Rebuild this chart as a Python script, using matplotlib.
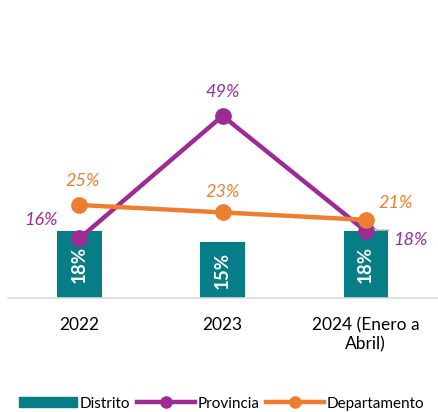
import matplotlib.pyplot as plt
import numpy as np
from matplotlib.lines import Line2D
from matplotlib.patches import Patch

categorias = ["2022", "2023", "2024 (Enero a\nAbril)"]
distrito = [18, 15, 18]
provincia = [16, 49, 18]
departamento = [25, 23, 21]

c_dist = "#077E87"
c_prov = "#9C2B94"
c_dep = "#ED7D31"

plt.rcParams['font.family'] = ['Lato', 'DejaVu Sans']

fig = plt.figure(figsize=(4.39, 4.12), dpi=100)
ax = fig.add_axes([0.018, 0.277, 0.978, 0.541])

x = np.arange(len(categorias))
ax.bar(x, distrito, width=0.31, color=c_dist, zorder=2)
ax.plot(x, provincia, color=c_prov, lw=3.2, marker="o", ms=11, zorder=3)
ax.plot(x, departamento, color=c_dep, lw=3.2, marker="o", ms=11, zorder=4)

# etiquetas barras
for xi, v in zip(x, distrito):
    ax.text(xi, v / 2, f"{v}%", rotation=90, ha="center", va="center",
            color="white", fontsize=13.5, fontweight="bold", zorder=5)

# etiquetas lineas
off_prov = [(-0.27, 5), (0, 6.5), (0.31, -2.5)]
for xi, v, (dx, dy) in zip(x, provincia, off_prov):
    ax.text(xi + dx, v + dy, f"{v}%", ha="center", va="center", color=c_prov,
            fontsize=13, style="italic")
off_dep = [(0.02, 6.5), (0, 5.5), (0.21, 4.5)]
for xi, v, (dx, dy) in zip(x, departamento, off_dep):
    ax.text(xi + dx, v + dy, f"{v}%", ha="center", va="center", color=c_dep,
            fontsize=13, style="italic")
ax.plot([x[2] + 0.05, x[2] + 0.08, x[2] + 0.16], [19.2, 18.2, 18.2], color="#A6A6A6", lw=1, zorder=2)

ax.set_xlim(-0.5, 2.5)
ax.set_ylim(0, 60)
ax.set_xticks(x)
ax.set_xticklabels(categorias, fontsize=12.5)
ax.tick_params(axis="x", length=0, pad=14)
ax.set_yticks([])
for s in ["top", "left", "right"]:
    ax.spines[s].set_visible(False)
ax.spines["bottom"].set_color("#D9D9D9")
ax.spines["bottom"].set_linewidth(1.2)

handles = [
    Patch(color=c_dist, label="Distrito"),
    Line2D([], [], color=c_prov, lw=3.2, marker="o", ms=8, label="Provincia"),
    Line2D([], [], color=c_dep, lw=3.2, marker="o", ms=8, label="Departamento"),
]
fig.legend(handles=handles, loc="lower center", bbox_to_anchor=(0.505, -0.03), ncol=3, frameon=False,
           fontsize=11, handlelength=3.8, handleheight=0.6, handletextpad=0.2, columnspacing=0.4)

fig.savefig("out.png", dpi=100)
